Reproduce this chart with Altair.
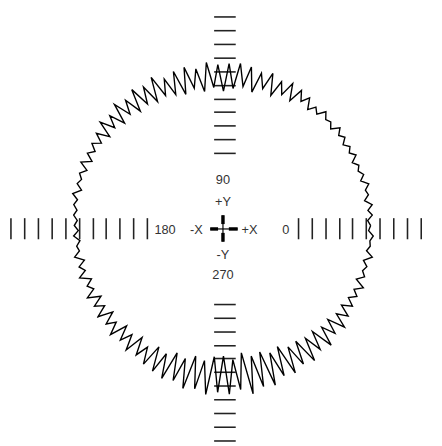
import altair as alt
import pandas as pd
import numpy as np

# radius of the jagged ring, every 2 degrees, counter-clockwise from +X
radius = [
    150, 147, 152, 148, 153, 146, 151, 149, 154, 147, 152, 148, 151, 146, 153,
    148, 152, 147, 153, 149, 155, 147, 152, 150, 156, 148, 153, 146, 157, 149,
    159, 144, 161, 146, 158, 141, 163, 145, 160, 139, 164, 143, 166, 140, 165,
    137, 164, 141, 167, 138, 162, 143, 166, 139, 165, 142, 161, 145, 168, 143,
    163, 146, 167, 144, 162, 148, 166, 145, 161, 149, 164, 147, 160, 150, 158,
    151, 157, 149, 159, 150, 156, 152, 155, 149, 157, 151, 154, 150, 153, 149,
    152, 148, 153, 147, 151, 149, 155, 146, 153, 148, 156, 145, 152, 147, 157,
    144, 155, 146, 158, 143, 156, 147, 160, 142, 157, 145, 161, 141, 159, 146,
    163, 140, 165, 143, 168, 138, 166, 141, 171, 136, 169, 139, 173, 134, 170,
    133, 172, 137, 168, 131, 174, 136, 169, 134, 171, 138, 165, 135, 167, 140,
    163, 139, 166, 142, 160, 141, 164, 144, 158, 143, 161, 146, 157, 145, 155,
    147, 154, 148, 156, 146, 153, 149, 152, 147, 155, 148, 151, 150, 153, 148,
]
ANGLE_STEP = 2

# distances of the tick marks from the centre along each axis
tick_dist = [77, 91, 105, 119, 132, 146, 160, 174, 188, 202, 216]

labels = ["90", "+Y", "-Y", "270", "-X", "+X", "180", "0"]

# ---- layout (pixels, origin at the centre of the cross) ----
W, H = 434, 438
CX, CY = 219, 221          # centre position inside the plot area
RING_DX, RING_DY = 0.5, 3.5
label_x = [0, 0, 0, 0, -27, 27, -59, 64]
label_y = [50, 27, -27, -47, -1, -1, -1, -1]

xs = alt.Scale(domain=[-CX, W - CX], nice=False, zero=False)
ys = alt.Scale(domain=[CY - H, CY], nice=False, zero=False)

ang = np.deg2rad(np.arange(len(radius)) * ANGLE_STEP)
r = np.array(radius, dtype=float)
ring = pd.DataFrame({
    "i": np.arange(len(radius) + 1),
    "x": np.append(r * np.cos(ang), r[0]) + RING_DX,
    "y": np.append(r * np.sin(ang), 0) + RING_DY,
})

rows = []
for d in tick_dist:
    for s in (-1, 1):
        rows.append({"x": s * d, "x2": s * d, "y": -10.5, "y2": 11})
        rows.append({"x": -9, "x2": 13, "y": s * d, "y2": s * d})
ticks = pd.DataFrame(rows)

thin = pd.DataFrame([
    {"x": -13, "x2": 15, "y": 0, "y2": 0},
    {"x": 0, "x2": 0, "y": -13, "y2": 14},
])
thick = pd.DataFrame([
    {"x": -13, "x2": -5, "y": 0, "y2": 0},
    {"x": 6, "x2": 15, "y": 0, "y2": 0},
    {"x": 0, "x2": 0, "y": 5, "y2": 14},
    {"x": 0, "x2": 0, "y": -4, "y2": -13},
])

texts = pd.DataFrame({"t": labels, "x": label_x, "y": label_y})

X = lambda f: alt.X(f, type="quantitative", scale=xs, axis=None)
Y = lambda f: alt.Y(f, type="quantitative", scale=ys, axis=None)

tick_layer = alt.Chart(ticks).mark_rule(color="#222222", strokeWidth=1.6).encode(
    x=X("x"), x2="x2", y=Y("y"), y2="y2")

thin_layer = alt.Chart(thin).mark_rule(color="black", strokeWidth=1.2).encode(
    x=X("x"), x2="x2", y=Y("y"), y2="y2")
thick_layer = alt.Chart(thick).mark_rule(color="black", strokeWidth=3.5).encode(
    x=X("x"), x2="x2", y=Y("y"), y2="y2")

ring_layer = alt.Chart(ring).mark_line(color="black", strokeWidth=1.4).encode(
    x=X("x"), y=Y("y"), order="i:Q")

text_layer = alt.Chart(texts).mark_text(
    font="Liberation Sans", fontSize=13, color="#333333", baseline="middle"
).encode(x=X("x"), y=Y("y"), text="t:N")

chart = alt.layer(tick_layer, ring_layer, thin_layer, thick_layer, text_layer).properties(
    width=W, height=H, padding=0, autosize=alt.AutoSizeParams(type="none")
).configure_view(stroke=None)

chart.save("out.html", embed_options={"renderer": "svg", "actions": False})
